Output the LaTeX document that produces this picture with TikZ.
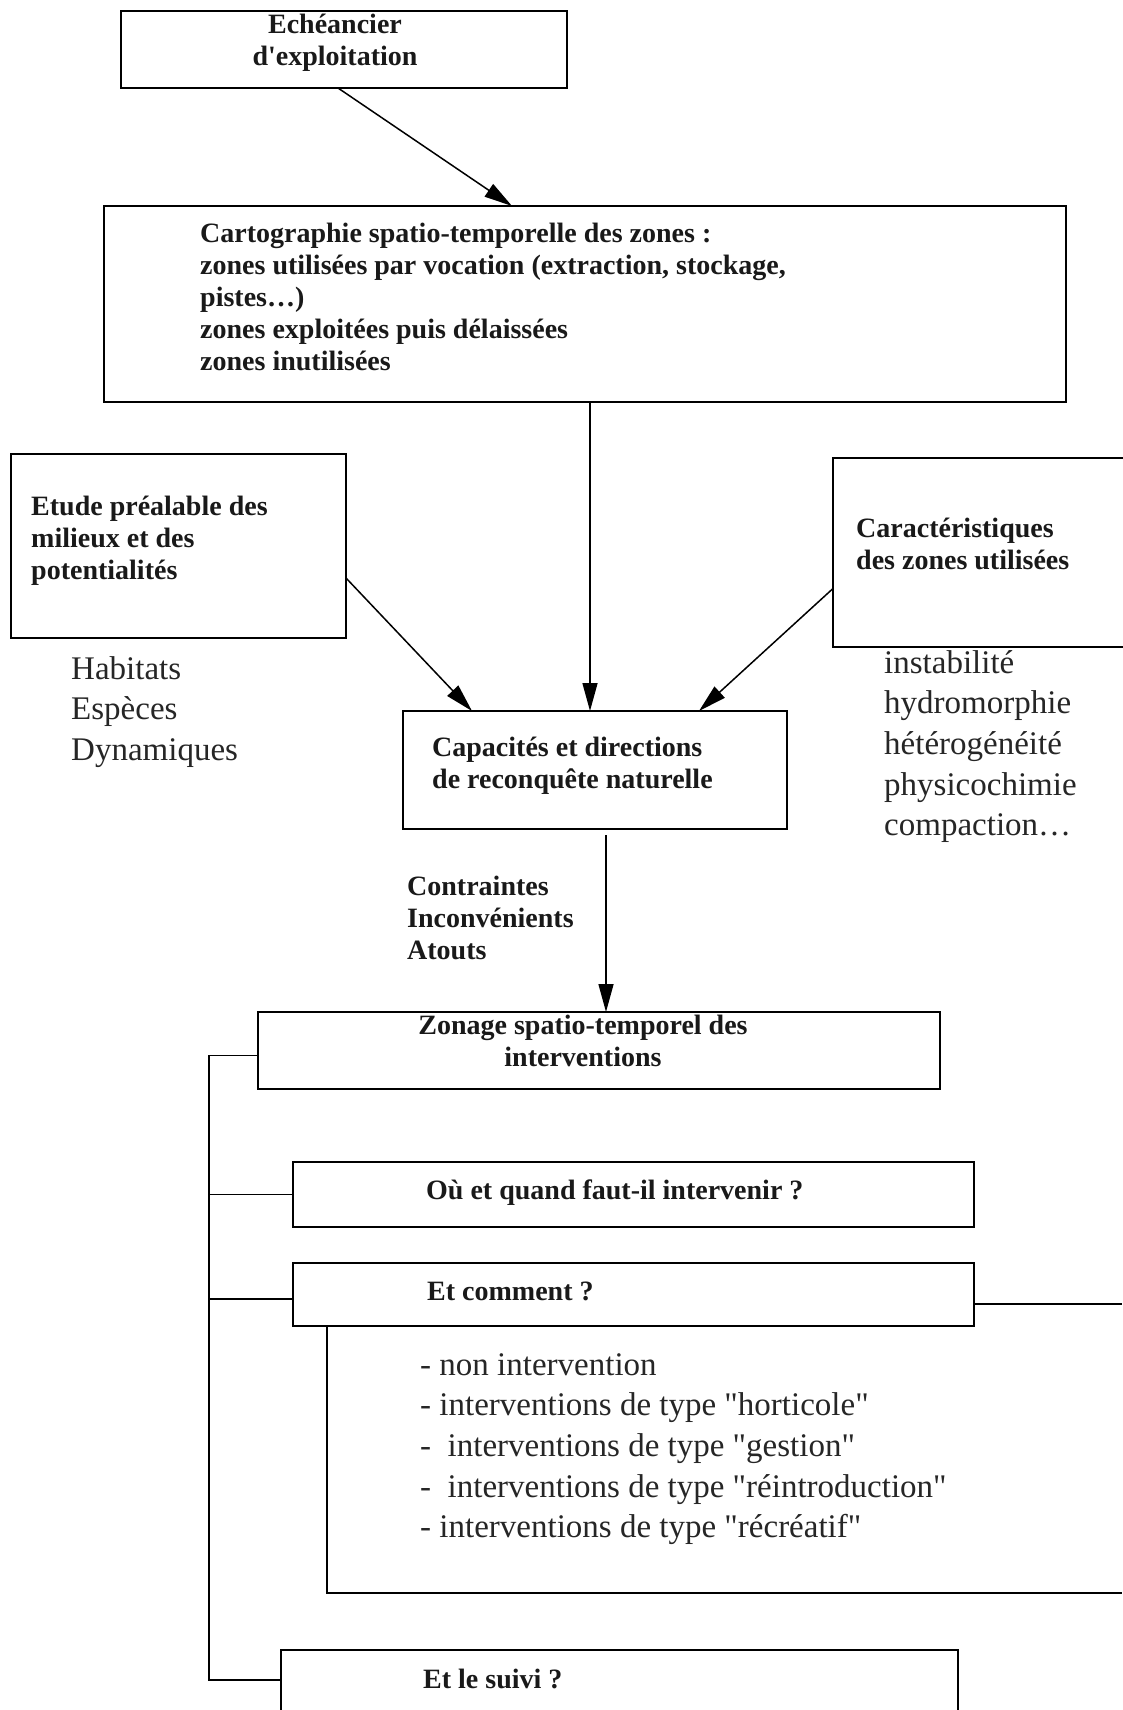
\documentclass[tikz,border=0pt]{standalone}
\usepackage{fontspec}
\setmainfont{Liberation Serif}[Ligatures=TeXOff]
\usetikzlibrary{arrows.meta}
\newcommand{\lns}[2][l]{\begin{tabular}[t]{@{}#1@{}}#2\end{tabular}}
\begin{document}
\begin{tikzpicture}[x=1pt,y=-1pt,
  box/.style={draw=black, line width=2pt, inner sep=0pt, outer sep=0pt, anchor=north west},
  conn/.style={draw=black, line width=1.5pt},
  arr/.style={conn, -{Triangle[length=28pt,width=15pt]}},
  bt/.style={font=\fontsize{28}{32}\selectfont\bfseries, inner sep=0pt, anchor=base west, text=black!90},
  rt/.style={font=\fontsize{33}{40.7}\selectfont, inner sep=0pt, anchor=base west, text=black!85}]

\useasboundingbox (0,0) rectangle (1122,1710);
\fill[white] (0,0) rectangle (1122,1710);

% boxes
\node[box, minimum width=446pt, minimum height=77pt] (ech) at (121,11) {};
\node[box, minimum width=962pt, minimum height=196pt] (carto) at (104,206) {};
\node[box, minimum width=335pt, minimum height=184pt] (etude) at (11,454) {};
\node[box, minimum width=300pt, minimum height=189pt] (carac) at (833,458) {};
\node[box, minimum width=384pt, minimum height=118pt] (cap) at (403,711) {};
\node[box, minimum width=682pt, minimum height=77pt] (zon) at (258,1012) {};
\node[box, minimum width=681pt, minimum height=65pt] (ou) at (293,1162) {};
\node[box, minimum width=681pt, minimum height=63pt] (comm) at (293,1263) {};
\node[box, minimum width=677pt, minimum height=66pt] (suivi) at (281,1650) {};

% texts
\node[bt, anchor=base] (echt) at (335,34) {\lns[c]{Echéancier\\d'exploitation}};
\node[bt] (cartot) at (200,242) {\lns{Cartographie spatio-temporelle des zones :\\zones utilisées par vocation (extraction, stockage,\\pistes…)\\zones exploitées puis délaissées\\zones inutilisées}};
\node[bt] (etudet) at (31,515) {\lns{Etude préalable des\\milieux et des\\potentialités}};
\node[bt] (caract) at (856,537) {\lns{Caractéristiques\\des zones utilisées}};
\node[rt] (habt) at (71,679) {\lns{Habitats\\Espèces\\Dynamiques}};
\node[rt] (instt) at (884,673) {\lns{instabilité\\hydromorphie\\hétérogénéité\\physicochimie\\compaction…}};
\node[bt] (capt) at (432,756) {\lns{Capacités et directions\\de reconquête naturelle}};
\node[bt] (contt) at (407,895) {\lns{Contraintes\\Inconvénients\\Atouts}};
\node[bt, anchor=base] (zont) at (583,1034) {\lns[c]{Zonage spatio-temporel des\\interventions}};
\node[bt] (out) at (426,1199) {Où et quand faut-il intervenir ?};
\node[bt] (commt) at (427,1300) {Et comment ?};
\node[rt] (listt) at (420,1375) {\lns{- non intervention\\- interventions de type "horticole"\\-~~interventions de type "gestion"\\-~~interventions de type "réintroduction"\\- interventions de type "récréatif"}};
\node[bt] (suivit) at (423,1688) {Et le suivi ?};

% connectors
\draw[arr] ([xshift=-6pt]ech.south) -- ([xshift=-73pt]carto.north);
\draw[arr] ([xshift=5pt]carto.south) -- ([xshift=-5pt]cap.north);
\draw[arr] ([yshift=-32pt]etude.east) -- ([xshift=69pt]cap.north west);
\draw[arr] ([yshift=-36pt]carac.west) -- ([xshift=104pt]cap.north);
\draw[arr] ([xshift=11pt,yshift=-6pt]cap.south) -- ([xshift=7pt]zon.north);

\coordinate (tk) at (209,1680);
\draw[conn] ([yshift=-5pt]zon.west) -| (tk) -- ([yshift=3pt]suivi.west);
\draw[conn] (ou.west) -- (ou.west -| tk);
\draw[conn] ([yshift=-4.5pt]comm.west) -- ([yshift=-4.5pt]comm.west -| tk);
\coordinate (re) at (1122,1304);
\draw[conn] ([yshift=-9.5pt]comm.east) -- (re);
\coordinate (bk) at (1122,1593);
\draw[conn] ([xshift=34pt]comm.south west) |- (bk);
\end{tikzpicture}
\end{document}
